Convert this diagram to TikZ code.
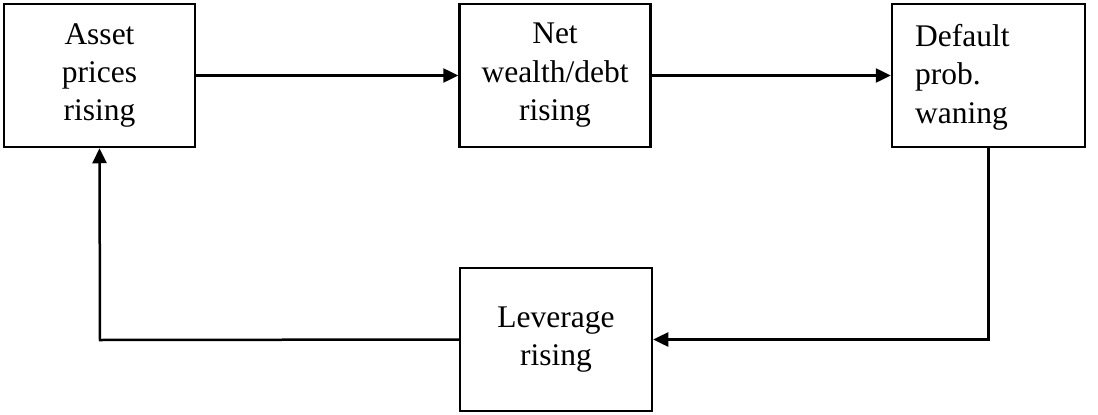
\documentclass[tikz,border=0pt]{standalone}
\usepackage{fontspec}
\setmainfont{Liberation Serif}
\usetikzlibrary{arrows.meta,calc}
\begin{document}
\begin{tikzpicture}[x=1pt,y=-1pt,
  lbl/.style={font=\fontsize{31.5}{38.5}\selectfont},
  box/.style={draw,line width=2.5pt,minimum width=191pt,minimum height=143pt,inner sep=0pt,lbl},
  conn/.style={line width=2.5pt,-{Triangle[length=15pt,width=14pt]}}]
\useasboundingbox (0,0) rectangle (1098,415);
\node[box,align=center] (asset) at (99.5,75.5) {Asset\\prices\\rising};
\node[box,align=center] (net) at (555,75.5) {Net\\wealth/debt\\rising};
\node[box,minimum width=193pt] (def) at (988.5,75.5) {};
\node[anchor=base west,inner sep=0pt,align=left,lbl] (deftext) at (915,123) {Default\\prob.\\waning};
\node[box,align=center,minimum width=192pt] (lev) at (556,339.5) {Leverage\\rising};
\coordinate (lc) at (100,340);
\draw[conn] (asset.east) -- (net.west);
\draw[conn] (net.east) -- (def.west);
\draw[conn] (def.south) |- (lev.east);
\draw[conn] (lev.west) -- (lc) -- (asset.south);
\end{tikzpicture}
\end{document}
